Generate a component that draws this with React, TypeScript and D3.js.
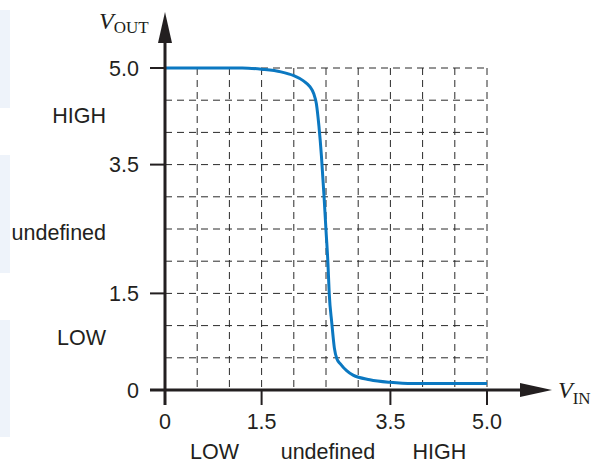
import React from "react";
import * as d3 from "d3";

const vin = [0, 1.2, 1.5, 1.8, 2.0, 2.15, 2.25, 2.31, 2.35, 2.39, 2.43, 2.47, 2.5, 2.53, 2.55, 2.59, 2.63, 2.67, 2.72, 2.82, 2.92, 3.18, 3.49, 3.85, 5.0];
const vout = [5.0, 5.0, 4.98, 4.94, 4.88, 4.8, 4.71, 4.6, 4.45, 4.1, 3.62, 3.0, 2.48, 1.97, 1.5, 1.04, 0.65, 0.48, 0.41, 0.3, 0.23, 0.16, 0.12, 0.1, 0.1];
const tickValues = [0, 1.5, 3.5, 5.0];
const tickLabelsX = ["0", "1.5", "3.5", "5.0"];
const tickLabelsY = ["0", "1.5", "3.5", "5.0"];
const gridValues = [0.5, 1.0, 1.5, 2.0, 2.5, 3.0, 3.5, 4.0, 4.5, 5.0];
const xCategories = [
  { label: "LOW", at: 0.77 },
  { label: "undefined", at: 2.53 },
  { label: "HIGH", at: 4.26 },
];
const yCategories = [
  { label: "HIGH", at: 4.27 },
  { label: "undefined", at: 2.45 },
  { label: "LOW", at: 0.82 },
];

export default function App() {
  const W = 600, H = 464;
  const x = d3.scaleLinear().domain([0, 5]).range([165, 487]);
  const y = d3.scaleLinear().domain([0, 5]).range([390, 68]);
  const pts = vin.map((v, i) => [v, vout[i]] as [number, number]);
  const line = d3
    .line<[number, number]>()
    .x((d) => x(d[0]))
    .y((d) => y(d[1]))
    .curve(d3.curveMonotoneX);
  const ink = "#231f20";
  const grid = "#2a2a2a";
  const sans = "'Liberation Sans', Arial, sans-serif";
  const serif = "'Liberation Serif', 'Times New Roman', serif";
  const fs = 21.5;
  return (
    <svg width={W} height={H} style={{ position: "absolute", left: 0, top: 0, background: "#fff" }}>
      {/* faint background panels */}
      <rect x={0} y={10} width={10} height={98} fill="#eef3fa" />
      <rect x={0} y={155} width={10} height={118} fill="#eef3fa" />
      <rect x={0} y={320} width={10} height={117} fill="#eef3fa" />
      {/* grid */}
      <g stroke={grid} strokeWidth={1} strokeDasharray="7,5" fill="none">
        {gridValues.map((g) => (
          <line key={"v" + g} x1={x(g)} x2={x(g)} y1={y(5)} y2={y(0)} />
        ))}
        {gridValues.map((g) => (
          <line key={"h" + g} x1={x(0)} x2={x(5)} y1={y(g)} y2={y(g)} />
        ))}
      </g>
      {/* curve */}
      <path d={line(pts) || ""} fill="none" stroke="#0b78c1" strokeWidth={3} strokeLinejoin="round" />
      {/* axes */}
      <line x1={x(0)} x2={x(0)} y1={y(0) + 15} y2={30} stroke={ink} strokeWidth={3} />
      <path d={`M${x(0)},12 L${x(0) - 7},43 L${x(0) + 7},43 Z`} fill={ink} />
      <line x1={x(0) - 15} x2={535} y1={y(0)} y2={y(0)} stroke={ink} strokeWidth={3} />
      <path d={`M552,${y(0)} L520,${y(0) - 7} L520,${y(0) + 7} Z`} fill={ink} />
      {/* ticks */}
      {tickValues.map((t) => (
        <line key={"yt" + t} x1={x(0) - 15} x2={x(0)} y1={y(t)} y2={y(t)} stroke={ink} strokeWidth={2} />
      ))}
      {tickValues.map((t) => (
        <line key={"xt" + t} x1={x(t)} x2={x(t)} y1={y(0)} y2={y(0) + 15} stroke={ink} strokeWidth={2} />
      ))}
      {/* tick labels */}
      {tickValues.map((t, i) => (
        <text key={"yl" + t} x={x(0) - 26} y={y(t)} dy="0.36em" textAnchor="end" fontFamily={sans} fontSize={fs} fill={ink}>
          {tickLabelsY[i]}
        </text>
      ))}
      {tickValues.map((t, i) => (
        <text key={"xl" + t} x={x(t)} y={y(0) + 39} textAnchor="middle" fontFamily={sans} fontSize={fs} fill={ink}>
          {tickLabelsX[i]}
        </text>
      ))}
      {/* category labels */}
      {xCategories.map((c) => (
        <text key={"xc" + c.label} x={x(c.at)} y={459} textAnchor="middle" fontFamily={sans} fontSize={fs} fill={ink}>
          {c.label}
        </text>
      ))}
      {yCategories.map((c) => (
        <text key={"yc" + c.label} x={106} y={y(c.at)} dy="0.36em" textAnchor="end" fontFamily={sans} fontSize={fs} fill={ink}>
          {c.label}
        </text>
      ))}
      {/* axis titles */}
      <text x={99} y={29} fontFamily={serif} fill={ink}>
        <tspan fontSize={24} fontStyle="italic">V</tspan>
        <tspan fontSize={17} dy={4}>OUT</tspan>
      </text>
      <text x={558} y={398} fontFamily={serif} fill={ink}>
        <tspan fontSize={24} fontStyle="italic">V</tspan>
        <tspan fontSize={17} dy={6}>IN</tspan>
      </text>
    </svg>
  );
}
